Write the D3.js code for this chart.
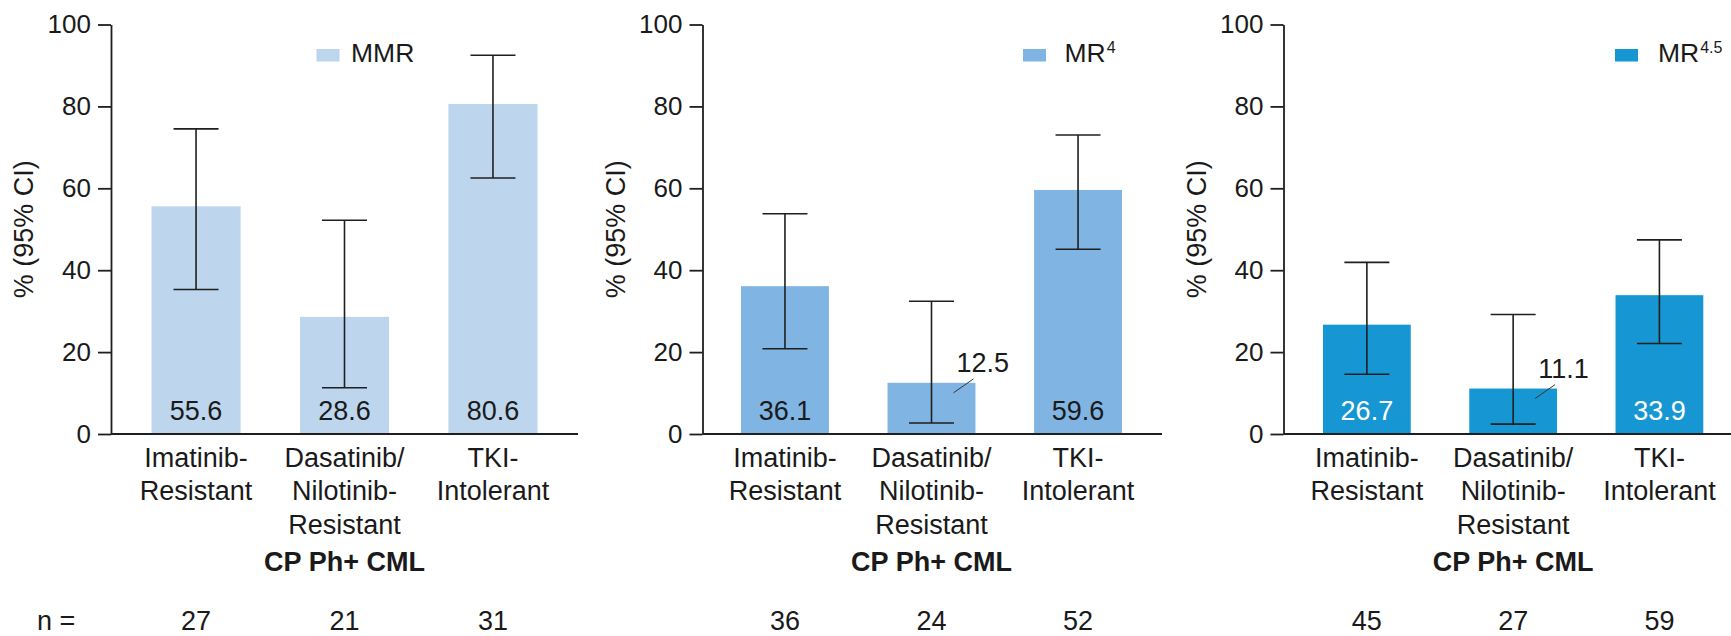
<!DOCTYPE html>
<html>
<head>
<meta charset="utf-8">
<script src="https://cdn.jsdelivr.net/npm/d3@7/dist/d3.min.js"></script>
<style>
  html, body { margin: 0; padding: 0; background: #ffffff; }
  svg { display: block; }
  text { font-family: "Liberation Sans", Arial, Helvetica, sans-serif; fill: #1a1a1a; }
</style>
</head>
<body>
<svg id="chart" width="1731" height="636"></svg>
<script>
// ---------------- DATA ----------------
const categories = [["Imatinib-", "Resistant"], ["Dasatinib/", "Nilotinib-", "Resistant"], ["TKI-", "Intolerant"]];
const groupTitle = "CP Ph+ CML";
const yTicks = [0, 20, 40, 60, 80, 100];

const seriesNames = ["MMR", "MR", "MR"];
const seriesSup = ["", "4", "4.5"];

const mmrValues = [55.6, 28.6, 80.6];
const mmrLow    = [35.3, 11.3, 62.5];
const mmrHigh   = [74.5, 52.2, 92.5];
const mmrN      = [27, 21, 31];

const mr4Values = [36.1, 12.5, 59.6];
const mr4Low    = [20.8, 2.7, 45.1];
const mr4High   = [53.8, 32.4, 73.0];
const mr4N      = [36, 24, 52];

const mr45Values = [26.7, 11.1, 33.9];
const mr45Low    = [14.6, 2.4, 22.1];
const mr45High   = [41.9, 29.2, 47.4];
const mr45N      = [45, 27, 59];

// ---------------- LAYOUT ----------------
const panels = [
  { values: mmrValues, low: mmrLow, high: mmrHigh, n: mmrN,
    axisX: 111, bar: [151.5, 537.5], end: 578, legX: 316.5, legTX: 351, color: "#bdd6ee", labelColor: "#1a1a1a" },
  { values: mr4Values, low: mr4Low, high: mr4High, n: mr4N,
    axisX: 702.5, bar: [741, 1122], end: 1162, legX: 1023, legTX: 1064.5, color: "#80b4e2", labelColor: "#1a1a1a" },
  { values: mr45Values, low: mr45Low, high: mr45High, n: mr45N,
    axisX: 1283.5, bar: [1323, 1703.3], end: 1731, legX: 1615, legTX: 1658, color: "#1697d3", labelColor: "#ffffff" }
];

const svg = d3.select("#chart");
const y = d3.scaleLinear().domain([0, 100]).range([434, 24.5]);
const ink = "#1f1f1f";
const FS = 27;
const nRowY = 630;

panels.forEach((p, pi) => {
  const g = svg.append("g");
  const idx = d3.range(categories.length);
  const x = d3.scaleBand().domain(idx).range(p.bar).paddingInner(0.4).paddingOuter(0);
  const cx = i => x(i) + x.bandwidth() / 2;

  // bars
  g.selectAll("rect.bar").data(idx).join("rect")
    .attr("class", "bar")
    .attr("x", i => x(i))
    .attr("width", x.bandwidth())
    .attr("y", i => y(p.values[i]))
    .attr("height", i => y(0) - y(p.values[i]))
    .attr("fill", p.color);

  // y axis
  const yAxis = d3.axisLeft(y).tickValues(yTicks).tickSize(13).tickSizeOuter(0).tickPadding(7);
  const ya = g.append("g").attr("transform", `translate(${p.axisX},0)`).call(yAxis);
  ya.select(".domain").attr("stroke", ink).attr("stroke-width", 1.8);
  ya.selectAll(".tick line").attr("stroke", ink).attr("stroke-width", 1.8);
  ya.selectAll(".tick text").attr("font-size", 26).attr("fill", "#1a1a1a")
    .style("font-family", '"Liberation Sans", Arial, sans-serif');

  // baseline (x axis)
  g.append("line")
    .attr("x1", p.axisX).attr("x2", p.end)
    .attr("y1", y(0)).attr("y2", y(0))
    .attr("stroke", ink).attr("stroke-width", 1.8);

  // y title
  g.append("text")
    .attr("transform", `translate(${p.axisX - 87},${(y(0) + y(100)) / 2}) rotate(-90)`)
    .attr("text-anchor", "middle").attr("dy", "0.35em")
    .attr("font-size", FS)
    .text("% (95% CI)");

  // error bars
  const cap = 22.5;
  const eb = g.selectAll("g.eb").data(idx).join("g").attr("class", "eb")
    .attr("stroke", ink).attr("stroke-width", 1.6);
  eb.append("line").attr("x1", cx).attr("x2", cx)
    .attr("y1", i => y(p.high[i])).attr("y2", i => y(p.low[i]));
  eb.append("line").attr("x1", i => cx(i) - cap).attr("x2", i => cx(i) + cap)
    .attr("y1", i => y(p.high[i])).attr("y2", i => y(p.high[i]));
  eb.append("line").attr("x1", i => cx(i) - cap).attr("x2", i => cx(i) + cap)
    .attr("y1", i => y(p.low[i])).attr("y2", i => y(p.low[i]));

  // value labels
  idx.forEach(i => {
    const v = p.values[i];
    if (v >= 20) {
      g.append("text").attr("x", cx(i)).attr("y", 420)
        .attr("text-anchor", "middle").attr("font-size", FS)
        .style("fill", p.labelColor)
        .text(v.toFixed(1));
    } else {
      const top = y(v);
      g.append("line")
        .attr("x1", cx(i) + 22).attr("y1", top + 10)
        .attr("x2", cx(i) + 42).attr("y2", top - 4)
        .attr("stroke", "#333").attr("stroke-width", 1);
      g.append("text").attr("x", cx(i) + 25).attr("y", top - 11)
        .attr("font-size", FS).text(v.toFixed(1));
    }
  });

  // category labels
  idx.forEach(i => {
    const t = g.append("text").attr("text-anchor", "middle").attr("font-size", FS);
    categories[i].forEach((line, li) => {
      t.append("tspan").attr("x", cx(i)).attr("y", 466.5 + li * 33.5).text(line);
    });
  });

  // group title
  g.append("text").attr("x", cx(1)).attr("y", 571)
    .attr("text-anchor", "middle").attr("font-size", FS).attr("font-weight", "bold")
    .text(groupTitle);

  // n row
  idx.forEach(i => {
    g.append("text").attr("x", cx(i)).attr("y", nRowY)
      .attr("text-anchor", "middle").attr("font-size", FS)
      .text(p.n[i]);
  });

  // legend
  g.append("rect").attr("x", p.legX).attr("y", 49).attr("width", 23).attr("height", 12.5)
    .attr("fill", p.color);
  const lt = g.append("text").attr("x", p.legTX).attr("y", 61.5).attr("font-size", 26.5)
    .text(seriesNames[pi]);
  if (seriesSup[pi]) {
    lt.append("tspan").attr("dy", -8.5).attr("dx", 1).attr("font-size", 16).text(seriesSup[pi]);
  }
});

svg.append("text").attr("x", 37).attr("y", nRowY).attr("font-size", FS).text("n =");
</script>
</body>
</html>
